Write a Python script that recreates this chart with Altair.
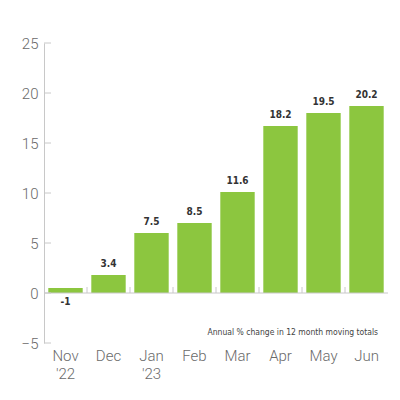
import altair as alt
import pandas as pd

months = ["Nov|'22", "Dec", "Jan|'23", "Feb", "Mar", "Apr", "May", "Jun"]
bar_heights = [0.5, 1.8, 6.0, 7.0, 10.1, 16.7, 18.0, 18.7]
labels = [-1, 3.4, 7.5, 8.5, 11.6, 18.2, 19.5, 20.2]
y_ticks = [-5, 0, 5, 10, 15, 20, 25]
note = "Annual % change in 12 month moving totals"

df = pd.DataFrame({"month": months, "height": bar_heights, "label": labels})
df["text"] = df["label"].map(lambda v: f"{v:g}")
df["zero"] = 0
df["tick_top"] = 0.6
ticks_df = pd.DataFrame({"v": y_ticks})

green = "#8cc63f"
grey_text = "#6a6a6a"
grey_line = "#c8c8c8"
narrow = "DejaVu Sans Condensed"
light = "Roboto"

x_scale = alt.Scale(domain=months, paddingInner=0.2, paddingOuter=0.1)
y_scale = alt.Scale(domain=[-5, 25], nice=False)

# same axis objects on every layer so the shared axes merge cleanly
x_axis = alt.Axis(labelExpr="split(datum.label, '|')", domain=False, ticks=False,
                  labelAngle=0, labelFontSize=15, labelColor=grey_text,
                  labelFont=light, labelFontWeight=300, labelPadding=5, labelLineHeight=18)
y_axis = alt.Axis(values=y_ticks, ticks=False, grid=False, domainColor=grey_line,
                  labelFontSize=15, labelColor=grey_text, labelFont=light,
                  labelFontWeight=300, labelPadding=6)


def xenc():
    return alt.X("month:N", sort=months, scale=x_scale, title=None, axis=x_axis)


def yenc(field):
    return alt.Y(field, scale=y_scale, title=None, axis=y_axis)


base = alt.Chart(df)

bars = base.mark_bar(color=green).encode(x=xenc(), y=yenc("height:Q"))

# baseline at zero
baseline = alt.Chart(pd.DataFrame({"zero": [0]})).mark_rule(color=grey_line).encode(
    y=yenc("zero:Q"),
    x=alt.value(0),
    x2=alt.value(344),
)

# little ticks between the bars
band_ticks = base.transform_filter(alt.datum.month != months[0]).mark_rule(
    color=grey_line, xOffset=-21.5
).encode(
    x=xenc(),
    y=yenc("zero:Q"),
    y2="tick_top:Q",
)

# y ticks point inward
y_tick_marks = alt.Chart(ticks_df).mark_rule(color=grey_line).encode(
    y=yenc("v:Q"),
    x=alt.value(0),
    x2=alt.value(7),
)

pos_text = base.transform_filter("datum.label >= 0").mark_text(
    baseline="bottom", dy=-6, fontSize=10, fontWeight="bold", color="#333333", font=narrow
).encode(x=xenc(), y=yenc("height:Q"), text="text:N")

neg_text = base.transform_filter("datum.label < 0").mark_text(
    baseline="top", dy=4, fontSize=10, fontWeight="bold", color="#333333", font=narrow
).encode(x=xenc(), y=yenc("zero:Q"), text="text:N")

note_text = alt.Chart(pd.DataFrame({"note": [note]})).mark_text(
    align="right", baseline="middle", fontSize=8.5, color="#444444", font=narrow
).encode(
    x=alt.value(334),
    y=alt.value(289),
    text="note:N",
)

chart = alt.layer(bars, baseline, band_ticks, y_tick_marks, pos_text, neg_text, note_text).properties(
    width=344, height=300,
    autosize=alt.AutoSizeParams(type="none"),
    padding={"left": 36, "top": 35, "right": 4, "bottom": 49},
).configure_view(stroke=None)

chart.save("out.html", embed_options={"renderer": "svg", "actions": False})
